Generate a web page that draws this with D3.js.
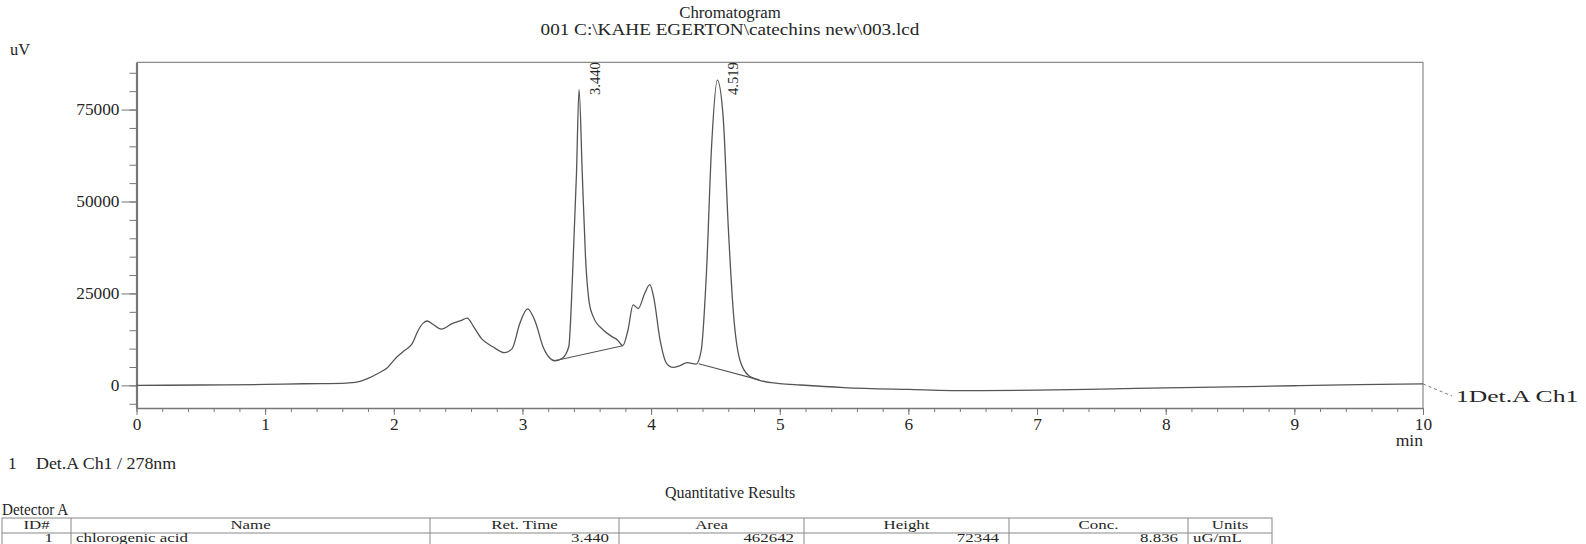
<!DOCTYPE html>
<html>
<head>
<meta charset="utf-8">
<script src="https://cdn.jsdelivr.net/npm/d3@7"></script>
<style>
  body { margin: 0; background: #fff; }
  text { font-family: "Liberation Serif", "Times New Roman", serif; fill: #262626; }
</style>
</head>
<body>
<div class="chart"></div>
<script>
// ---- data ----
var retTime = [0.00, 0.50, 1.00, 1.30, 1.60, 1.70, 1.80, 1.88, 1.95, 2.02, 2.08, 2.14, 2.19, 2.23, 2.26,
  2.30, 2.37, 2.45, 2.52, 2.57, 2.62, 2.68, 2.77, 2.86, 2.92, 2.98, 3.04, 3.10, 3.16, 3.21, 3.25,
  3.31, 3.36, 3.39, 3.42, 3.44, 3.465, 3.49, 3.52, 3.55, 3.63, 3.69, 3.74, 3.78, 3.82, 3.86, 3.90,
  3.95, 3.99, 4.02, 4.07, 4.12, 4.17, 4.22, 4.28, 4.35, 4.39, 4.43, 4.47, 4.515, 4.56, 4.60, 4.64,
  4.69, 4.76, 4.85, 5.00, 5.16, 5.50, 6.00, 6.50, 7.00, 7.50, 8.00, 8.50, 9.00, 9.50, 10.00];
var signal = [0, 100, 250, 450, 550, 800, 1900, 3300, 4800, 7600, 9400, 11200, 15000, 17000, 17500,
  16700, 15300, 16700, 17600, 18300, 16000, 12800, 10500, 8900, 10000, 16900, 20800, 17300, 10500, 7500, 6700,
  7400, 10500, 30500, 57600, 80500, 57600, 35000, 22300, 18700, 15000, 13400, 12300, 10800, 15000, 21900, 20900,
  25000, 27400, 24000, 12300, 6000, 4900, 5300, 6200, 5800, 9600, 30500, 64900, 83000, 73000, 43000, 19600,
  6900, 2600, 1300, 500, 100, -600, -1100, -1450, -1300, -1000, -700, -400, -100, 200, 400];

// integration baselines drawn under the two named peaks
var baseTimes = [[3.25, 3.78], [4.37, 4.84]];
var baseLevels = [[6700, 10800], [5900, 1500]];

var peakTimes = [3.440, 4.519];
var peakLabels = ["3.440", "4.519"];

var xTicks = [0, 1, 2, 3, 4, 5, 6, 7, 8, 9, 10];
var yTicks = [0, 25000, 50000, 75000];

var tableHead = ["ID#", "Name", "Ret. Time", "Area", "Height", "Conc.", "Units"];
var tableRow = ["1", "chlorogenic acid", "3.440", "462642", "72344", "8.836", "uG/mL"];

// ---- layout ----
var svgWidth = 1586;
var svgHeight = 544;
var SX = 1.08;            // scanned page is slightly stretched sideways
var plot = { left: 136.5, right: 1423, top: 62.3, bottom: 408 };
var colEdges = [2, 71, 430, 619, 804, 1009, 1188, 1272];
var colAlign = ["end", "start", "end", "end", "end", "end", "start"];
var colPad = [18, 5, 10, 10, 10, 10, 5];
var tableTop = 518, rowH = 15;

var svg = d3.select(".chart")
  .append("svg")
  .attr("width", svgWidth)
  .attr("height", svgHeight);

// stretched text helper
function label(x, y, str, anchor, size, sx) {
  return svg.append("text")
    .attr("transform", "translate(" + x + "," + y + ") scale(" + (sx || SX) + ",1)")
    .attr("text-anchor", anchor || "start")
    .style("font-size", (size || 16) + "px")
    .text(str);
}

var x = d3.scaleLinear().domain([0, 10]).range([plot.left, plot.right]);
var y = d3.scaleLinear().domain([-6150, 87850]).range([plot.bottom, plot.top]);

// frame (top + right)
svg.append("path")
  .attr("d", "M" + plot.left + "," + plot.top + "H" + plot.right + "V" + plot.bottom)
  .attr("fill", "none")
  .attr("stroke", "#8a8a8a")
  .attr("stroke-width", 1.2);

// Y axis: minor + major ticks
var yMinor = d3.range(-5000, 87850, 5000);
svg.append("g")
  .attr("transform", "translate(" + plot.left + ",0)")
  .call(d3.axisLeft(y).tickValues(yMinor).tickSize(7).tickSizeOuter(0).tickFormat(""))
  .call(function(g) { g.select(".domain").attr("stroke", "#777").attr("stroke-width", 2.2); })
  .call(function(g) { g.selectAll(".tick line").attr("stroke", "#777"); });

var yAxis = svg.append("g")
  .attr("transform", "translate(" + plot.left + ",0)")
  .call(d3.axisLeft(y).tickValues(yTicks).tickSize(15).tickSizeOuter(0).tickPadding(2).tickFormat(d3.format("d")));
yAxis.select(".domain").remove();
yAxis.selectAll(".tick line").attr("stroke", "#777");
yAxis.selectAll("text")
  .attr("x", -17 / SX)
  .attr("transform", "scale(" + SX + ",1)")
  .style("font-size", "16px")
  .style("font-family", "Liberation Serif, serif")
  .attr("fill", "#262626");

// X axis: minor + major ticks
var xMinor = d3.range(0, 10.01, 0.2);
svg.append("g")
  .attr("transform", "translate(0," + plot.bottom + ")")
  .call(d3.axisBottom(x).tickValues(xMinor).tickSize(4).tickSizeOuter(0).tickFormat(""))
  .call(function(g) { g.select(".domain").attr("stroke", "#777").attr("stroke-width", 1.6); })
  .call(function(g) { g.selectAll(".tick line").attr("stroke", "#777"); });

var xAxis = svg.append("g")
  .attr("transform", "translate(0," + plot.bottom + ")")
  .call(d3.axisBottom(x).tickValues(xTicks).tickSize(7).tickSizeOuter(0).tickPadding(4));
xAxis.select(".domain").remove();
xAxis.selectAll(".tick line").attr("stroke", "#777");
xAxis.selectAll("text")
  .attr("transform", "scale(" + SX + ",1)")
  .style("font-size", "16px")
  .style("font-family", "Liberation Serif, serif")
  .attr("fill", "#262626");

// chromatogram trace
var trace = retTime.map(function(t, i) { return [t, signal[i]]; });
var line = d3.line()
  .x(function(d) { return x(d[0]); })
  .y(function(d) { return y(d[1]); })
  .curve(d3.curveMonotoneX);

svg.append("path")
  .datum(trace)
  .attr("d", line)
  .attr("fill", "none")
  .attr("stroke", "#555")
  .attr("stroke-width", 1.3);

// peak baselines
baseTimes.forEach(function(bt, i) {
  svg.append("line")
    .attr("x1", x(bt[0])).attr("y1", y(baseLevels[i][0]))
    .attr("x2", x(bt[1])).attr("y2", y(baseLevels[i][1]))
    .attr("stroke", "#555")
    .attr("stroke-width", 1.1);
});

// peak retention-time labels
peakTimes.forEach(function(t, i) {
  svg.append("text")
    .attr("transform", "translate(" + (x(t) + 20.5) + "," + (plot.top) + ") rotate(-90)")
    .attr("text-anchor", "end")
    .style("font-size", "14.5px")
    .text(peakLabels[i]);
});

// channel tag at the trace end
svg.append("line")
  .attr("x1", x(10)).attr("y1", y(signal[signal.length - 1]))
  .attr("x2", 1452).attr("y2", 396)
  .attr("stroke", "#777")
  .attr("stroke-dasharray", "3,3");
label(1456, 402, "1Det.A Ch1", "start", 16, 1.6);

// titles and captions
label(730, 18, "Chromatogram", "middle", 16, 1.05);
label(730, 35, "001 C:\\KAHE EGERTON\\catechins new\\003.lcd", "middle", 16, 1.2);
label(10, 55, "uV", "start", 16, 1.02);
label(1423, 446, "min", "end", 16, 1.1);
label(8, 469, "1");
label(36, 469, "Det.A Ch1 / 278nm", "start", 16, 1.12);
label(730, 498, "Quantitative Results", "middle", 16, 1.0);
label(2, 515, "Detector A", "start", 16, 0.95);

// results table
svg.append("rect")
  .attr("x", colEdges[0]).attr("y", tableTop)
  .attr("width", colEdges[colEdges.length - 1] - colEdges[0])
  .attr("height", rowH * 2)
  .attr("fill", "none")
  .attr("stroke", "#888");
svg.append("line")
  .attr("x1", colEdges[0]).attr("x2", colEdges[colEdges.length - 1])
  .attr("y1", tableTop + rowH).attr("y2", tableTop + rowH)
  .attr("stroke", "#888");
colEdges.slice(1, -1).forEach(function(cx) {
  svg.append("line")
    .attr("x1", cx).attr("x2", cx)
    .attr("y1", tableTop).attr("y2", tableTop + rowH * 2)
    .attr("stroke", "#888");
});

tableHead.forEach(function(h, i) {
  label((colEdges[i] + colEdges[i + 1]) / 2, tableTop + 10.5, h, "middle", 13.5, 1.25);
});
tableRow.forEach(function(v, i) {
  var cx = colAlign[i] === "end" ? colEdges[i + 1] - colPad[i] : colEdges[i] + colPad[i];
  label(cx, tableTop + rowH + 8.5, v, colAlign[i], 13.5, 1.25);
});
</script>
</body>
</html>
